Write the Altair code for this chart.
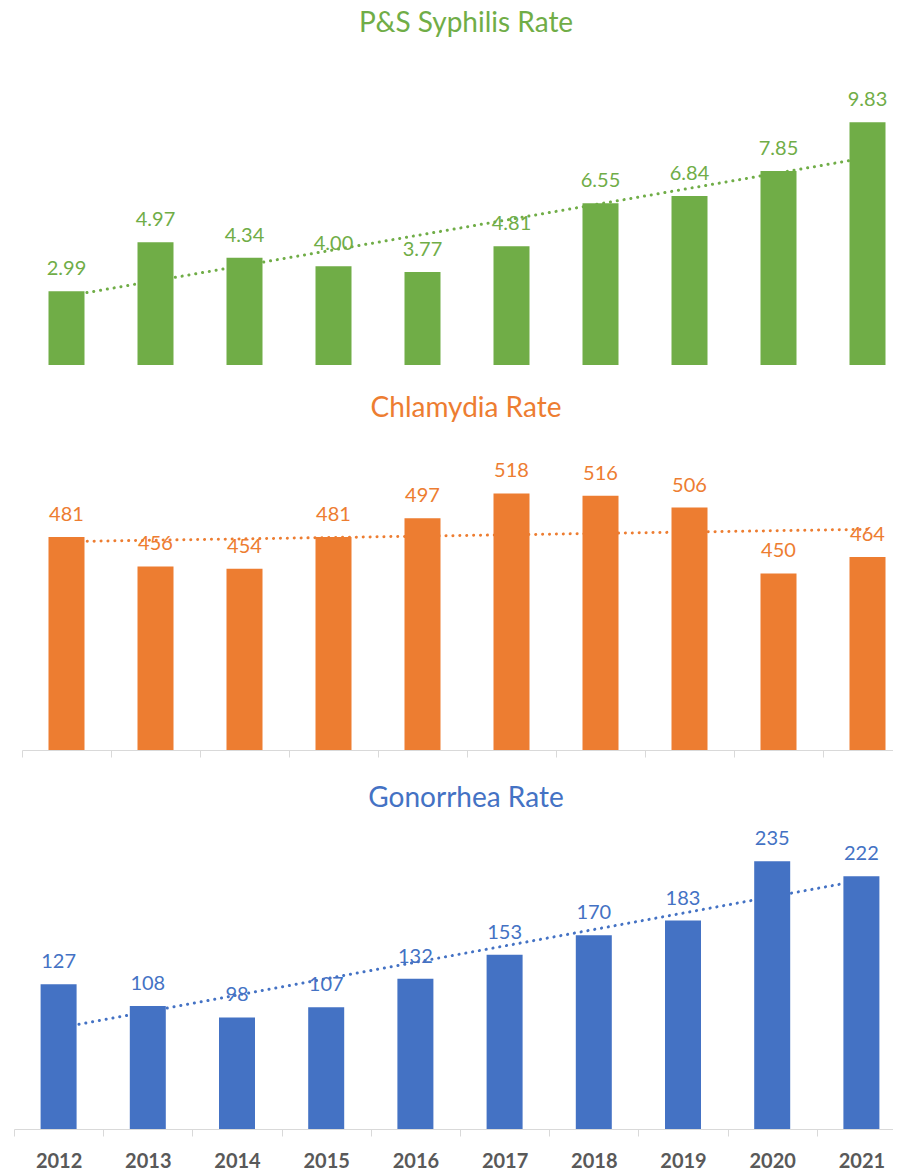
import altair as alt
import pandas as pd

years = ["2012", "2013", "2014", "2015", "2016", "2017", "2018", "2019", "2020", "2021"]
syphilis = [2.99, 4.97, 4.34, 4.00, 3.77, 4.81, 6.55, 6.84, 7.85, 9.83]
chlamydia = [481, 456, 454, 481, 497, 518, 516, 506, 450, 464]
gonorrhea = [127, 108, 98, 107, 132, 153, 170, 183, 235, 222]

GREEN = "#70AD47"
ORANGE = "#ED7D31"
BLUE = "#4472C4"
FONT = "Lato"


def panel(values, color, title, fmt, ymin, ymax, xrange, axis, height, toffset, tdx):
    df = pd.DataFrame({"year": years, "yr": [int(y) for y in years], "value": values})
    xenc = alt.X("year:O", sort=years,
                 scale=alt.Scale(domain=years, range=xrange, paddingInner=0, paddingOuter=0),
                 axis=axis, title=None)
    yscale = alt.Scale(domain=[ymin, ymax], zero=False, nice=False)
    base = alt.Chart(df)
    trend = base.transform_regression("yr", "value").transform_calculate(
        year="toString(datum.yr)"
    ).mark_line(color=color, strokeDash=[0.1, 6.8], strokeCap="round", strokeWidth=3).encode(
        x=xenc,
        y=alt.Y("value:Q", scale=yscale, axis=None),
    )
    bars = base.mark_bar(size=36, color=color).encode(
        x=xenc,
        y=alt.Y("value:Q", scale=yscale, axis=None),
        y2=alt.datum(ymin),
    )
    labels = base.mark_text(dy=-16, baseline="alphabetic", fontSize=20, font=FONT, color=color).encode(
        x=xenc,
        y=alt.Y("value:Q", scale=yscale, axis=None),
        text=alt.Text("value:Q", format=fmt),
    )
    return alt.layer(trend, bars, labels).properties(
        width=880,
        height=height,
        title=alt.TitleParams(
            text=title, font=FONT, fontSize=28, fontWeight="normal", color=color,
            anchor="middle", frame="group", baseline="alphabetic", offset=toffset, dx=tdx,
        ),
    )


mid_axis = alt.Axis(labels=False, ticks=True, tickBand="extent", tickSize=7, tickColor="#d9d9d9",
                    domainColor="#d9d9d9", domainWidth=1, tickWidth=1, grid=False)
bot_axis = alt.Axis(labels=True, ticks=True, tickBand="extent", tickSize=7, tickColor="#d9d9d9",
                    domainColor="#d9d9d9", domainWidth=1, tickWidth=1, grid=False, labelAngle=0,
                    labelFont=FONT, labelFontSize=20, labelFontWeight="bold", labelColor="#595959",
                    labelPadding=15)

p1 = panel(syphilis, GREEN, "P&S Syphilis Rate", ".2f", 0, 357 / 24.7, [14, 904], None, 357, -52, 18)
p2 = panel(chlamydia, ORANGE, "Chlamydia Rate", "d", 300, 300 + 385 / 1.177, [14, 904], mid_axis, 385, -80, 18)
p3 = panel(gonorrhea, BLUE, "Gonorrhea Rate", "d", 0, 379 / 1.139, [6, 898], bot_axis, 379, -85, 18)

chart = alt.vconcat(p1, p2, p3, spacing=0, bounds="flush").properties(
    padding={"left": 0, "top": 0, "right": -20, "bottom": 0}
).configure_view(stroke=None)

chart.save("out.html", embed_options={"renderer": "svg", "actions": False})
